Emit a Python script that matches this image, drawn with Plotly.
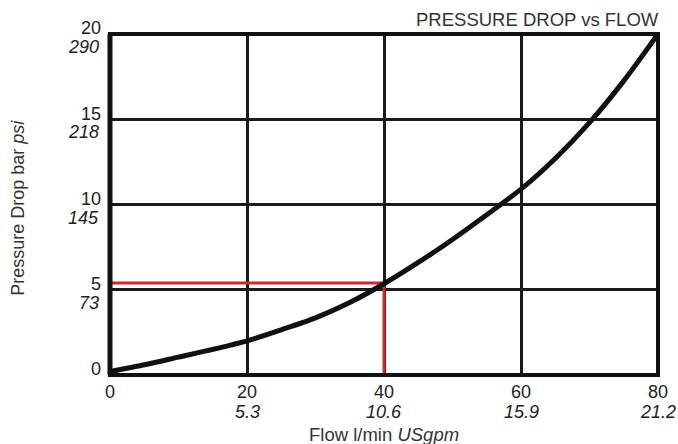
import plotly.graph_objects as go

# Data
flow_lpm = [0, 5, 10, 15, 20, 25, 30, 35, 40, 45, 50, 55, 60, 65, 70, 75, 80]
pressure_bar = [0.2, 0.6, 1.05, 1.5, 2.0, 2.65, 3.35, 4.25, 5.35, 6.6, 7.95,
                9.4, 10.9, 12.7, 14.8, 17.25, 20.0]

x_ticks = [0, 20, 40, 60, 80]
x_tick_usgpm = ["", "5.3", "10.6", "15.9", "21.2"]
y_ticks = [0, 5, 10, 15, 20]
y_tick_psi = ["", "73", "145", "218", "290"]

ref_flow = 40
ref_pressure = 5.4

FONT = "Liberation Sans, Arial, sans-serif"
TXT = "#222222"
FS = 18

fig = go.Figure()

# red reference lines
fig.add_trace(go.Scatter(
    x=[0, ref_flow, ref_flow], y=[ref_pressure, ref_pressure, 0],
    mode="lines", line=dict(color="#cc2b2b", width=3),
    hoverinfo="skip", showlegend=False))

# pressure drop curve
fig.add_trace(go.Scatter(
    x=flow_lpm, y=pressure_bar, mode="lines",
    line=dict(color="#111111", width=5, shape="spline", smoothing=0.8),
    showlegend=False))

fig.update_xaxes(
    range=[0, 80], tickmode="array", tickvals=x_ticks,
    ticktext=[str(v) for v in x_ticks],
    showgrid=True, gridcolor="#1a1a1a", gridwidth=3,
    zeroline=False, showline=False, ticks="", automargin=False,
    ticklabelstandoff=4,
    tickfont=dict(family=FONT, size=FS, color=TXT))
fig.update_yaxes(
    range=[0, 20], tickmode="array", tickvals=y_ticks,
    ticktext=[str(v) for v in y_ticks],
    showgrid=True, gridcolor="#1a1a1a", gridwidth=3,
    zeroline=False, showline=False, ticks="", automargin=False,
    ticklabelstandoff=8, ticklabelshift=-6,
    tickfont=dict(family=FONT, size=FS, color=TXT))

# secondary-unit tick labels (US gpm, psi), placed through the axis scales
for v, s in zip(x_ticks, x_tick_usgpm):
    if s:
        fig.add_annotation(text=f"<i>{s}</i>", xref="x", yref="paper", x=v, y=0,
                           xanchor="center", yanchor="middle", yshift=-37,
                           showarrow=False, font=dict(family=FONT, size=FS, color=TXT))
for v, s in zip(y_ticks, y_tick_psi):
    if s:
        fig.add_annotation(text=f"<i>{s}</i>", xref="paper", yref="y", x=0, y=v,
                           xanchor="right", yanchor="middle", xshift=-9, yshift=-13,
                           showarrow=False, font=dict(family=FONT, size=FS, color=TXT))

# frame
fig.add_shape(type="rect", xref="paper", yref="paper", x0=0, x1=1, y0=0, y1=1,
              line=dict(color="#111111", width=4), layer="above")
fig.add_shape(type="line", xref="paper", yref="paper", x0=0, x1=0, y0=0, y1=1,
              line=dict(color="#111111", width=5), layer="above")

fig.add_annotation(text="PRESSURE DROP vs FLOW", xref="paper", yref="paper",
                   x=1.006, y=1.0, xanchor="right", yanchor="bottom", yshift=2,
                   showarrow=False, font=dict(family=FONT, size=18.5, color="#333333"))
fig.add_annotation(text="Pressure Drop bar <i>psi</i>", xref="paper", yref="paper",
                   x=-0.168, y=0.49, xanchor="center", yanchor="middle",
                   textangle=-90, showarrow=False,
                   font=dict(family=FONT, size=18, color="#333333"))
fig.add_annotation(text="Flow l/min <i>USgpm</i>", xref="paper", yref="paper",
                   x=0.50, y=0, xanchor="center", yanchor="middle", yshift=-59,
                   showarrow=False, font=dict(family=FONT, size=18.5, color="#333333"))

fig.update_layout(
    width=678, height=444,
    margin=dict(l=110, r=20, t=34, b=69),
    plot_bgcolor="white", paper_bgcolor="white",
    font=dict(family=FONT, size=FS, color=TXT),
)

fig.write_html(
    "out.html",
    config={"displayModeBar": False},
    post_script="document.body.style.margin='0px';document.body.style.overflow='hidden';",
)
